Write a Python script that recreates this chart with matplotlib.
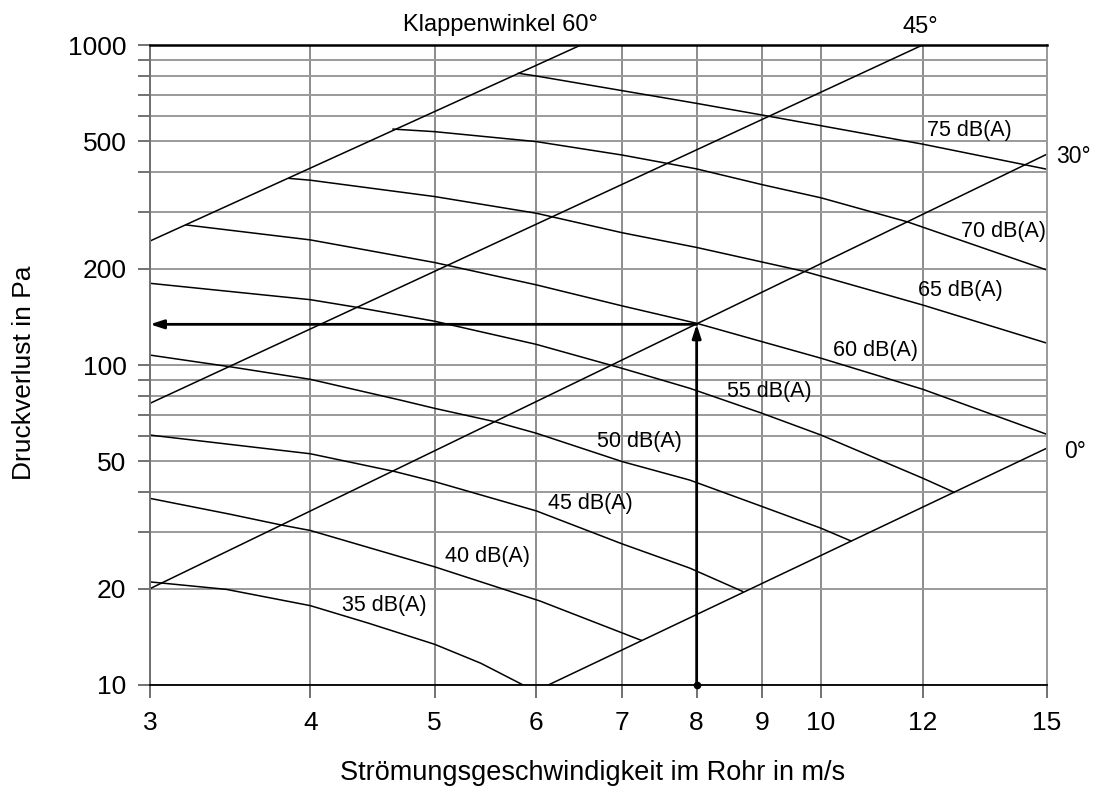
import matplotlib
matplotlib.use("Agg")
import matplotlib.pyplot as plt
from matplotlib.ticker import FixedLocator, NullFormatter, NullLocator

plt.rcParams['font.family'] = ['Liberation Sans', 'DejaVu Sans']

# Achsen
x_ticks = [3, 4, 5, 6, 7, 8, 9, 10, 12, 15]
y_major = [10, 20, 50, 100, 200, 500, 1000]
y_minor = [30, 40, 60, 70, 80, 90, 300, 400, 600, 700, 800, 900]

# Klappenwinkel-Geraden (v in m/s, dp in Pa)
angle_names = ['0°', '30°', '45°', '60°']
angle_v = [[6.13, 15], [3, 15], [3, 12], [3, 6.5]]
angle_p = [[10, 55], [20, 456], [75.9, 1000], [244, 1000]]

# Schallpegel-Kurven
db_levels = [35, 40, 45, 50, 55, 60, 65, 70, 75]
v35 = [3, 3.44, 4, 4.44, 5, 5.43, 5.86]
p35 = [21, 19.9, 17.7, 15.6, 13.4, 11.7, 10]
v40 = [3, 3.46, 3.8, 4, 5, 6.04, 7.24]
p40 = [38.3, 34.2, 31.6, 30.4, 23.4, 18.3, 13.8]
v45 = [3, 4, 4.66, 5, 6, 7, 7.9, 8.69]
p45 = [60.4, 52.8, 46.4, 43.2, 35.0, 27.6, 23.2, 19.6]
v50 = [3, 3.46, 4, 4.7, 5, 5.57, 6, 7, 7.9, 9, 10, 10.55]
p50 = [107.4, 98.8, 90.2, 77.7, 73.2, 66.5, 61.2, 49.9, 43.7, 36.1, 30.9, 28.2]
v55 = [3, 4, 4.35, 5, 6, 7, 7.9, 9, 10, 12, 12.7]
p55 = [180, 160, 151.4, 137, 116, 97.6, 84.6, 70.6, 60.4, 44.3, 40.0]
v60 = [3.2, 4, 4.44, 5, 6, 7, 8, 8.9, 10, 12, 15]
p60 = [274, 246, 228, 209, 178, 153, 135, 119.7, 105, 84, 60.7]
v65 = [3.85, 4, 5, 6, 7, 8, 9.71, 12, 15]
p65 = [383, 378, 336, 298, 259, 233, 196, 154, 117]
v70 = [4.64, 5, 6, 7, 7.58, 8, 9, 10, 11.68, 15]
p70 = [546, 536, 499, 453, 427, 410, 366, 333, 280, 198]
v75 = [5.81, 6, 7, 8, 9, 12, 15]
p75 = [816, 800, 720, 657, 604, 490, 409]
db_v = [v35, v40, v45, v50, v55, v60, v65, v70, v75]
db_p = [p35, p40, p45, p50, p55, p60, p65, p70, p75]

# Ablesebeispiel
v_op = 8
p_op = 134

W, H = 1093, 787
fig = plt.figure(figsize=(W / 100, H / 100), dpi=100)
ax = fig.add_axes([150 / W, 1 - 685 / H, 897 / W, 640 / H])
ax.set_xscale('log')
ax.set_yscale('log')
ax.set_xlim(3, 15)
ax.set_ylim(10, 1000)

ax.xaxis.set_major_locator(FixedLocator(x_ticks))
ax.xaxis.set_minor_locator(NullLocator())
ax.set_xticks(x_ticks, [str(t) for t in x_ticks])
ax.set_yticks(y_major, [str(t) for t in y_major])
ax.yaxis.set_minor_locator(FixedLocator(y_minor))
ax.yaxis.set_minor_formatter(NullFormatter())

ax.set_axisbelow(True)
ax.grid(True, which='both', axis='y', color='#9a9a9a', lw=1.4)
ax.grid(True, which='major', axis='x', color='#8c8c8c', lw=1.4)
ax.tick_params(axis='both', which='both', direction='out', length=9,
               width=1.3, color='#666666', labelsize=19)
ax.tick_params(axis='x', pad=10)
ax.tick_params(axis='y', pad=8)

ax.spines['top'].set_color('black')
ax.spines['top'].set_linewidth(1.8)
ax.spines['bottom'].set_color('black')
ax.spines['bottom'].set_linewidth(1.3)
ax.spines['left'].set_color('#707070')
ax.spines['left'].set_linewidth(1.4)
ax.spines['right'].set_color('#9a9a9a')
ax.spines['right'].set_linewidth(1.4)

for v, p in zip(angle_v, angle_p):
    ax.plot(v, p, color='black', lw=1.1)
for v, p in zip(db_v, db_p):
    ax.plot(v, p, color='black', lw=1.1, solid_joinstyle='round')

# Pfeile
aprops = dict(arrowstyle='-|>,head_length=0.4,head_width=0.13', lw=2,
              color='black', shrinkA=0, shrinkB=0, mutation_scale=20)
ax.annotate('', xy=(v_op, p_op), xytext=(v_op, 10), arrowprops=aprops)
ax.annotate('', xy=(3, p_op), xytext=(v_op, p_op), arrowprops=aprops)
ax.plot([v_op], [10], 'o', color='black', ms=4.5, clip_on=False, zorder=5)


def px(x, y):
    return x / W, 1 - y / H


# Beschriftung der Kurven (linker Rand, Grundlinie in Pixel)
db_pos = [(342, 611), (445, 562), (548, 509), (597, 447), (727, 397),
          (833, 356), (918, 296), (961, 237), (927, 136)]
for lvl, (x, y) in zip(db_levels, db_pos):
    fig.text(*px(x, y), f'{lvl} dB(A)', fontsize=15.5,
             ha='left', va='baseline')

fig.text(*px(403, 31), 'Klappenwinkel ' + angle_names[3], fontsize=17,
         ha='left', va='baseline')
fig.text(*px(920, 33), angle_names[2], fontsize=17, ha='center', va='baseline')
fig.text(*px(1056, 163), angle_names[1], fontsize=16.5, ha='left', va='baseline')
fig.text(*px(1064, 458), angle_names[0], fontsize=16.5, ha='left', va='baseline')

fig.text(*px(593, 773), 'Strömungsgeschwindigkeit im Rohr in m/s',
         fontsize=19.5, ha='center', va='center')
fig.text(*px(24, 373), 'Druckverlust in Pa', fontsize=19, rotation=90,
         ha='center', va='center')

fig.savefig('out.png', dpi=100)
